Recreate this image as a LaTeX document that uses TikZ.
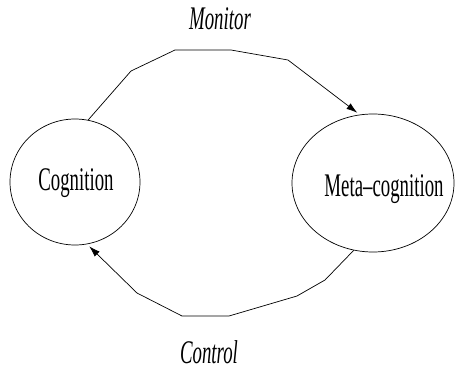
\documentclass[tikz,border=0pt]{standalone}
\usepackage{fontspec}
\setmainfont{Liberation Serif}[FakeStretch=0.57]
\usetikzlibrary{shapes.geometric,arrows.meta}
\begin{document}
\begin{tikzpicture}[x=1pt,y=-1pt,
  every node/.style={font=\fontsize{33}{40}\selectfont},
  state/.style={ellipse,draw,line width=0.7pt,inner sep=0pt},
  label/.style={anchor=base,inner sep=0pt},
  link/.style={line width=0.7pt,-{Latex[length=11pt,width=7pt]},shorten >=3pt}]
\useasboundingbox (0,0) rectangle (455,370);
% the two states
\node[state,minimum width=130pt,minimum height=126pt] (cog) at (75,182) {};
\node[state,minimum width=162pt,minimum height=138pt] (meta) at (373,183) {};
\node[label] (cogtext) at (76,190) {Cognition};
\node[label] (metatext) at (384,196) {Meta--cognition};
% edge labels
\node[label] (montext) at (220,29) {\itshape Monitor};
\node[label] (context) at (209,363) {\itshape Control};
% monitor loop
\draw[link] (cog.78) -- (131,71) -- (175,50) -- (231,50) -- (288,60) -- (meta.101);
% control loop
\draw[link] (meta.254) -- (325,280) -- (297,296) -- (229,316) -- (182,316) -- (137,293) -- (cog.281);
\end{tikzpicture}
\end{document}
